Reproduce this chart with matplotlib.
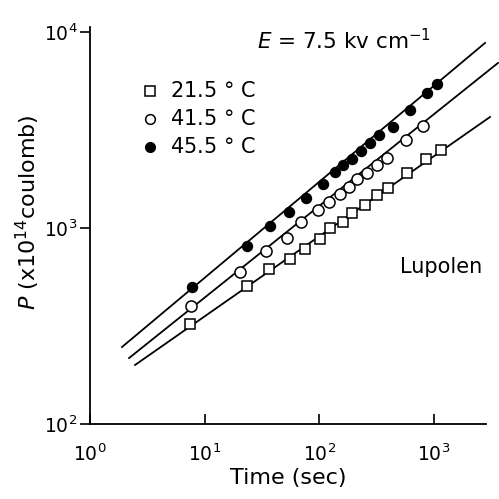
import matplotlib
matplotlib.use('Agg')
import matplotlib.pyplot as plt
import numpy as np

# 45.5 C (filled circles)
t_455 = [7.75, 23.4, 37.1, 54.4, 76.5, 108, 137, 161, 193, 231, 277, 331, 439, 618, 868, 1062]
p_455 = [500, 809, 1024, 1207, 1422, 1677, 1931, 2096, 2250, 2472, 2716, 2981, 3275, 3999, 4887, 5430]

# 41.5 C (open circles)
t_415 = [7.6, 20.3, 34.3, 52.2, 69.2, 97.3, 121, 151, 181, 213, 260, 318, 389, 570, 802]
p_415 = [400, 597, 763, 889, 1073, 1235, 1358, 1490, 1618, 1778, 1909, 2096, 2274, 2813, 3314]

# 21.5 C (open squares)
t_215 = [7.45, 23.4, 36.4, 55.5, 75, 101, 124, 161, 193, 250, 318, 397, 582, 851, 1151]
p_215 = [324, 506, 618, 695, 781, 879, 1000, 1073, 1194, 1310, 1474, 1599, 1909, 2250, 2500]

# fitted straight lines (end points)
fit_t = {'455': [1.9, 2786], '415': [2.19, 3614], '215': [2.47, 3078]}
fit_p = {'455': [247, 8790], '415': [217, 6950], '215': [200, 3684]}

legend_labels = ['21.5 $\\degree$ C', '41.5 $\\degree$ C', '45.5 $\\degree$ C']
x_ticks = [1, 10, 100, 1000]
y_ticks = [100, 1000, 10000]


def main():
    fig = plt.figure(figsize=(4.99, 4.99), dpi=100)
    ax = fig.add_axes([0.1804, 0.1503, 0.7936, 0.7956])
    ax.set_xscale('log')
    ax.set_yscale('log')
    ax.set_xlim(1, 2840)
    ax.set_ylim(100, 10600)

    for key in ['455', '415', '215']:
        ax.plot(fit_t[key], fit_p[key], color='black', lw=1.3, clip_on=False, zorder=1)

    ax.plot(t_215, p_215, 's', ms=6.5, mfc='white', mec='black', mew=1.1, zorder=3)
    ax.plot(t_415, p_415, 'o', ms=8, mfc='white', mec='black', mew=1.1, zorder=3)
    ax.plot(t_455, p_455, 'o', ms=7.2, mfc='black', mec='black', zorder=3)

    ax.spines['top'].set_visible(False)
    ax.spines['right'].set_visible(False)
    ax.spines['left'].set_linewidth(1.3)
    ax.spines['bottom'].set_linewidth(1.3)
    ax.minorticks_off()
    ax.set_xticks(x_ticks)
    ax.set_xticklabels(['$10^{%d}$' % int(np.log10(v)) for v in x_ticks], fontsize=13.5)
    ax.set_yticks(y_ticks)
    ax.set_yticklabels(['$10^{%d}$' % int(np.log10(v)) for v in y_ticks], fontsize=13.5)
    ax.tick_params(axis='x', direction='in', length=7, width=1.2, pad=14)
    ax.tick_params(axis='y', direction='out', length=7, width=1.2, pad=2)

    # legend drawn by hand
    styles = [dict(marker='s', ms=6.5, mfc='white', mec='black', mew=1.1),
              dict(marker='o', ms=7, mfc='white', mec='black', mew=1.1),
              dict(marker='o', ms=7, mfc='black', mec='black')]
    ys = [0.817, 0.761, 0.705]
    for lab, st, yy in zip(legend_labels, styles, ys):
        fig.lines.append(plt.Line2D([0.30], [yy], linestyle='None', transform=fig.transFigure, **st))
        fig.text(0.34, yy, lab, fontsize=15, va='center', ha='left')

    fig.text(0.69, 0.918, '$E$ = 7.5 kv cm$^{-1}$', fontsize=15.5, ha='center', va='center')
    fig.text(0.885, 0.465, 'Lupolen', fontsize=15, ha='center', va='center')
    fig.text(0.577, 0.042, 'Time (sec)', fontsize=16, ha='center', va='center')
    fig.text(0.056, 0.575, '$P$ (x10$^{14}$coulomb)', fontsize=16, ha='center', va='center',
             rotation=90)

    fig.savefig('out.png', dpi=100)
    plt.close(fig)


if __name__ == "__main__":
    main()
